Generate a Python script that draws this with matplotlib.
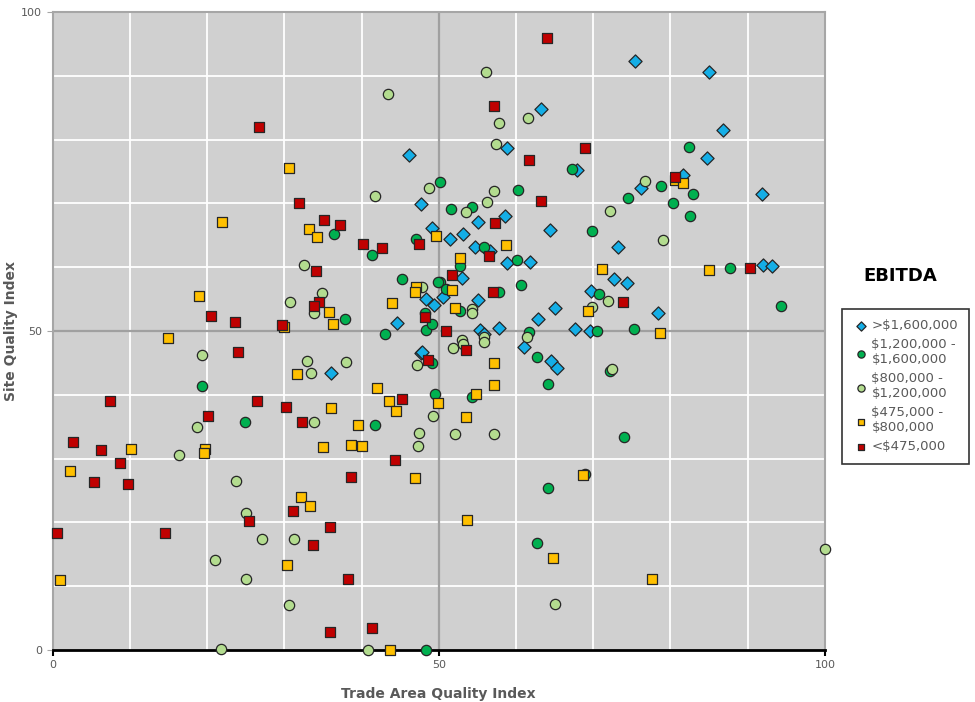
import matplotlib
matplotlib.use("Agg")
import matplotlib.pyplot as plt
import numpy as np

# >$1,600,000
blue_x = [75.4, 85.0, 86.8, 84.8, 63.3, 58.9, 46.1, 47.7, 49.1, 53.1, 55.1, 58.6, 56.5, 53.0, 64.4,
          61.8, 58.8, 67.9, 76.2, 81.6, 91.8, 92.0, 93.1, 73.2, 72.7, 74.4, 69.7, 78.4, 65.0, 62.8,
          67.6, 69.6, 57.8, 55.4, 55.8, 55.1, 51.4, 54.7, 56.7, 48.3, 49.4, 50.6, 44.6, 47.7, 36.0,
          61.0, 64.6, 65.3, 47.8]
blue_y = [92.3, 90.6, 81.5, 77.1, 84.8, 78.7, 77.6, 69.9, 66.1, 65.2, 67.1, 68.0, 62.4, 58.3, 65.8,
          60.8, 60.7, 75.2, 72.4, 74.5, 71.5, 60.3, 60.2, 63.2, 58.1, 57.5, 56.3, 52.8, 53.6, 51.9,
          50.3, 50.0, 50.5, 50.2, 49.5, 54.9, 64.4, 63.2, 62.5, 55.0, 54.1, 55.3, 51.3, 46.6, 43.4,
          47.5, 45.3, 44.2, 46.7]

# $1,200,000 - $1,600,000
dgreen_x = [50.1, 60.2, 67.2, 82.4, 78.8, 82.9, 74.5, 80.3, 82.5, 69.9, 51.6, 54.3, 55.8, 60.1, 52.8,
            60.6, 57.8, 50.1, 51.0, 52.7, 87.7, 94.3, 70.7, 70.5, 75.3, 48.3, 49.1, 48.2, 61.7,
            36.4, 41.3, 47.0, 45.3, 49.9, 37.8, 43.0, 49.1, 19.3, 24.9, 41.7, 49.5, 48.4,
            62.7, 64.1, 72.2, 54.3, 74.0, 68.9, 64.1, 62.7]
dgreen_y = [73.4, 72.1, 75.4, 78.8, 72.7, 71.5, 70.8, 70.1, 68.0, 65.7, 69.1, 69.4, 63.2, 61.1, 60.2,
            57.2, 56.1, 57.7, 56.6, 53.1, 59.9, 53.9, 55.8, 50.0, 50.3, 50.2, 51.1, 52.8, 49.8,
            65.2, 61.9, 64.4, 58.2, 57.7, 51.9, 49.5, 45.0, 41.4, 35.7, 35.3, 40.1, 0.0,
            45.9, 41.7, 43.7, 39.7, 33.4, 27.6, 25.4, 16.8]

# $800,000 - $1,200,000
lgreen_x = [56.1, 57.8, 61.5, 57.4, 48.7, 57.1, 56.2, 53.5, 76.7, 72.2, 79.1, 71.9, 69.9, 54.3, 54.3,
            47.8, 55.8, 61.4, 53.0, 43.4, 41.7, 32.6, 34.9, 30.8, 33.9, 19.4, 32.9, 33.4, 38.0,
            47.2, 49.2, 47.4, 47.3, 33.9, 18.7, 16.3, 23.8, 25.1, 27.1, 31.3, 21.0, 25.1, 30.6,
            21.8, 40.9, 51.9, 53.1, 55.8, 52.1, 57.1, 72.5, 100.0, 65.0]
lgreen_y = [90.6, 82.6, 83.4, 79.3, 72.4, 71.9, 70.2, 68.7, 73.5, 68.8, 64.3, 54.7, 53.8, 53.4, 52.8,
            56.9, 49.1, 49.1, 48.6, 87.1, 71.2, 60.3, 55.9, 54.5, 52.8, 46.2, 45.3, 43.4, 45.1,
            44.7, 36.7, 34.0, 32.0, 35.7, 35.0, 30.6, 26.5, 21.5, 17.4, 17.4, 14.1, 11.1, 7.1,
            0.2, 0.0, 47.3, 48.0, 48.3, 33.9, 33.9, 44.0, 15.8, 7.2]

# $475,000 - $800,000
yellow_x = [30.6, 21.9, 33.2, 34.2, 49.7, 19.0, 47.0, 46.9, 43.9, 35.8, 36.3, 29.9, 14.9, 58.7, 52.8,
            51.7, 52.1, 71.2, 69.3, 85.0, 80.6, 81.6, 78.6, 31.6, 42.0, 36.0, 39.6, 43.5, 44.4,
            49.9, 35.0, 38.6, 40.0, 10.1, 19.7, 19.6, 2.3, 46.9, 32.1, 33.3, 30.3, 1.0, 43.7,
            57.1, 57.1, 54.8, 53.5, 53.6, 64.8, 68.7, 77.6]
yellow_y = [75.5, 67.1, 66.0, 64.7, 64.9, 55.5, 56.9, 56.1, 54.4, 53.0, 51.1, 50.6, 48.9, 63.5, 61.4,
            56.5, 53.6, 59.7, 53.1, 59.6, 73.7, 73.2, 49.7, 43.3, 41.1, 37.9, 35.3, 39.0, 37.5,
            38.7, 31.8, 32.1, 32.0, 31.5, 31.5, 30.9, 28.1, 27.0, 24.0, 22.6, 13.3, 11.0, 0.0,
            45.0, 41.5, 40.1, 36.5, 20.4, 14.4, 27.4, 11.1]

# <$475,000
red_x = [64.0, 57.1, 69.0, 61.7, 80.6, 63.2, 57.3, 56.5, 51.7, 57.0, 73.8, 90.3, 48.2, 51.0, 47.5,
         26.7, 31.9, 35.2, 37.2, 40.2, 42.7, 34.1, 34.5, 33.9, 20.5, 23.6, 29.7, 24.0, 48.6,
         7.4, 26.4, 30.2, 20.1, 32.3, 45.2, 2.6, 6.2, 8.7, 5.3, 9.8, 44.3, 38.7, 25.4, 31.1,
         35.9, 33.7, 0.5, 14.6, 38.2, 35.9, 41.4, 53.5]
red_y = [95.9, 85.3, 78.7, 76.8, 74.1, 70.4, 66.9, 61.8, 58.8, 56.1, 54.5, 59.9, 52.2, 50.0, 63.6,
         82.0, 70.1, 67.4, 66.6, 63.6, 63.0, 59.4, 54.5, 53.9, 52.4, 51.4, 50.9, 46.7, 45.5,
         39.0, 39.0, 38.1, 36.7, 35.7, 39.3, 32.6, 31.3, 29.3, 26.3, 26.0, 29.8, 27.1, 20.2, 21.8,
         19.3, 16.5, 18.3, 18.3, 11.1, 2.8, 3.4, 47.0]

fig = plt.figure(figsize=(9.75, 7.02), dpi=100)
ax = fig.add_axes([0.054, 0.074, 0.792, 0.909])
ax.set_facecolor("#d0d0d0")

ax.set_xlim(0, 100)
ax.set_ylim(0, 100)
ax.set_xticks([0, 50, 100])
ax.set_yticks([0, 50, 100])
ax.set_xticks(np.arange(10, 100, 10), minor=True)
ax.set_yticks(np.arange(10, 100, 10), minor=True)
ax.grid(which="minor", color="white", lw=1.3)
ax.axvline(50, color="#a0a0a0", lw=1.6, zorder=1)
ax.axhline(50, color="#a0a0a0", lw=1.6, zorder=1)
ax.set_axisbelow(True)
for s in ["top", "right", "left"]:
    ax.spines[s].set_color("#a6a6a6")
    ax.spines[s].set_linewidth(1.5)
ax.spines["bottom"].set_color("black")
ax.spines["bottom"].set_linewidth(2)
ax.tick_params(which="both", length=0, labelsize=8, colors="#595959")
ax.tick_params(axis="x", which="major", length=4, color="black", width=1.5)
ax.tick_params(axis="y", which="major", length=4, color="#a6a6a6")

kw = dict(edgecolors="#262626", linewidths=0.9, s=55, zorder=3, clip_on=False)
ax.scatter(blue_x, blue_y, marker="D", color="#14aee6", label=">$1,600,000", s=45,
           edgecolors="#262626", linewidths=0.9, zorder=3, clip_on=False)
ax.scatter(dgreen_x, dgreen_y, marker="o", color="#00b050", label="$1,200,000 -\n$1,600,000", **kw)
ax.scatter(lgreen_x, lgreen_y, marker="o", color="#b3dc8f", label="$800,000 -\n$1,200,000", **kw)
ax.scatter(yellow_x, yellow_y, marker="s", color="#ffc000", label="$475,000 -\n$800,000", s=45,
           edgecolors="#262626", linewidths=0.9, zorder=3, clip_on=False)
ax.scatter(red_x, red_y, marker="s", color="#c00000", label="<$475,000", s=45,
           edgecolors="#262626", linewidths=0.9, zorder=3, clip_on=False)

ax.set_xlabel("Trade Area Quality Index", fontsize=10, fontweight="bold", color="#595959", labelpad=12)
ax.set_ylabel("Site Quality Index", fontsize=10, fontweight="bold", color="#595959", labelpad=2)

leg = fig.legend(loc="upper left", bbox_to_anchor=(0.864, 0.56), frameon=True, fancybox=False,
                 fontsize=9.5, labelcolor="#595959", handletextpad=0.2, handlelength=1.2,
                 borderpad=0.8, borderaxespad=0, labelspacing=0.45, markerscale=0.7)
leg.get_frame().set_edgecolor("black")
leg.get_frame().set_linewidth(1.2)
fig.text(0.923, 0.607, "EBITDA", fontsize=13, fontweight="bold", ha="center", va="center")

fig.savefig("out.png", dpi=100)
